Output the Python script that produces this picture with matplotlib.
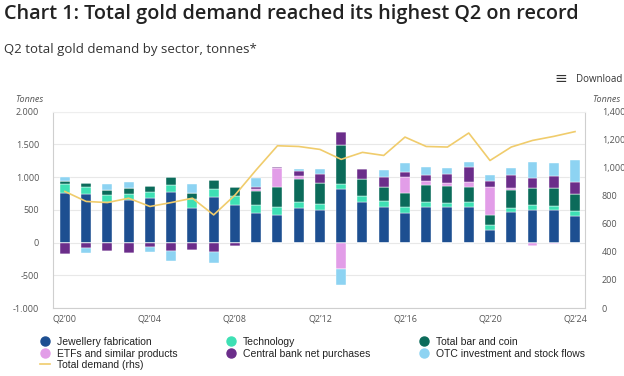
import numpy as np
import matplotlib.pyplot as plt
from matplotlib.lines import Line2D

# Q2 gold demand by sector, tonnes
years = list(range(2000, 2025))
jewellery = [763, 745, 620, 650, 675, 780, 535, 700, 570, 450, 420, 530, 500,
             814, 625, 550, 450, 550, 540, 550, 195, 460, 500, 500, 405]
technology = [133, 110, 100, 92, 100, 100, 130, 125, 135, 125, 120, 85, 90,
              82, 88, 90, 92, 76, 60, 76, 75, 66, 76, 60, 82]
bar_coin = [45, 50, 85, 88, 97, 128, 95, 135, 150, 220, 305, 355, 316,
            595, 255, 215, 223, 255, 265, 229, 150, 280, 255, 270, 260]
etfs = [0, 0, 0, 0, 0, 0, 0, 0, 0, 30, 295, 50, 0,
        -410, 0, 0, 235, 66, 40, 76, 430, 25, -50, -20, 0]
central_bank = [-170, -90, -135, -165, -70, -135, -115, -140, -60, 30, 10, 75, 142,
                200, 153, 143, 86, 86, 150, 229, 92, 203, 152, 188, 180]
otc = [67, -70, 90, 100, -75, -140, 135, -165, 0, 125, 0, 35, 72,
       -235, 0, 112, 127, 117, 77, 77, 87, 100, 245, 204, 330]
total_demand = [831, 760, 752, 783, 724, 752, 783, 664, 805, 985, 1157, 1152, 1131,
                1060, 1110, 1088, 1219, 1152, 1148, 1248, 1052, 1148, 1195, 1224, 1258]

series = [
    ('Jewellery fabrication', jewellery, '#1d4f91'),
    ('Technology', technology, '#3ee0b4'),
    ('Total bar and coin', bar_coin, '#0b6b5a'),
    ('ETFs and similar products', etfs, '#e29de8'),
    ('Central bank net purchases', central_bank, '#6b2d8a'),
    ('OTC investment and stock flows', otc, '#8dd3f2'),
]
line_color = '#f0cc6c'

left_ticks = [-1000, -500, 0, 500, 1000, 1500, 2000]
left_labels = ['-1.000', '-500', '0', '500', '1.000', '1.500', '2.000']
right_ticks = [0, 200, 400, 600, 800, 1000, 1200, 1400]
right_labels = ['0', '200', '400', '600', '800', '1,000', '1,200', '1,400']
xtick_pos = [0, 4, 8, 12, 16, 20, 24]
xtick_labels = ["Q2\u201900", "Q2\u201904", "Q2\u201908", "Q2\u201912",
                "Q2\u201916", "Q2\u201920", "Q2\u201924"]

plt.rcParams['font.family'] = ['Open Sans', 'DejaVu Sans']

fig = plt.figure(figsize=(6.24, 3.76), dpi=100)
ax = fig.add_axes([53 / 624, 1 - 308 / 376, 532 / 624, 196.3 / 376])

x = np.arange(len(years))
pos_base = np.zeros(len(years))
neg_base = np.zeros(len(years))
for name, vals, color in series:
    v = np.array(vals, dtype=float)
    pos = np.where(v > 0, v, 0)
    neg = np.where(v < 0, v, 0)
    ax.bar(x, pos, 0.47, bottom=pos_base, color=color, edgecolor='white',
           linewidth=0.3, zorder=2)
    ax.bar(x, neg, 0.47, bottom=neg_base, color=color, edgecolor='white',
           linewidth=0.3, zorder=2)
    pos_base += pos
    neg_base += neg

ax.set_xlim(-0.56, 24.47)
ax.set_ylim(-1000, 2000)
ax.set_yticks(left_ticks)
ax.set_yticklabels(left_labels)
ax.set_xticks(xtick_pos)
ax.set_xticklabels(xtick_labels)
ax.grid(axis='y', color='#e8e8e8', linewidth=0.8, zorder=0)
ax.tick_params(axis='y', length=0, pad=10, labelsize=6.5, labelcolor='#555555')
ax.tick_params(axis='x', length=0, pad=5, labelsize=6.5, labelcolor='#555555')
for s in ax.spines.values():
    s.set_color('#cfcfcf')
    s.set_linewidth(0.8)
ax.spines['top'].set_color('#eeeeee')

ax2 = ax.twinx()
ax2.plot(x, total_demand, color=line_color, linewidth=1.2, zorder=3)
ax2.set_ylim(0, 1400)
ax2.set_yticks(right_ticks)
ax2.set_yticklabels(right_labels)
ax2.tick_params(axis='y', length=0, pad=12, labelsize=6.5, labelcolor='#555555')
for s in ax2.spines.values():
    s.set_visible(False)

# titles and axis units
fig.text(4 / 624, 1 - 14 / 376, 'Chart 1: Total gold demand reached its highest Q2 on record',
         fontsize=14.3, fontweight='semibold', color='#222222', va='center')
fig.text(4 / 624, 1 - 49 / 376, 'Q2 total gold demand by sector, tonnes*',
         fontsize=9.5, color='#333333', va='center')
fig.text(554 / 624, 1 - 79 / 376, '\u2261', fontsize=11, color='#333333',
         va='center', family=['DejaVu Sans'])
fig.text(576 / 624, 1 - 79 / 376, 'Download', fontsize=7, color='#333333', va='center')
fig.text(15 / 624, 1 - 99 / 376, 'Tonnes', fontsize=6.5, style='italic',
         color='#555555', va='center')
fig.text(592 / 624, 1 - 99 / 376, 'Tonnes', fontsize=6.5, style='italic',
         color='#555555', va='center')

# legend, column-major to match the reference layout
def dot(c):
    return Line2D([], [], marker='o', linestyle='none', markersize=6.5,
                  markerfacecolor=c, markeredgecolor=c)

names = {n: c for n, _, c in series}
order = ['Jewellery fabrication', 'ETFs and similar products', None,
         'Technology', 'Central bank net purchases',
         'Total bar and coin', 'OTC investment and stock flows']
handles, labels = [], []
for n in order:
    if n is None:
        handles.append(Line2D([], [], color=line_color, linewidth=1.2))
        labels.append('Total demand (rhs)')
    else:
        handles.append(dot(names[n]))
        labels.append(n)

fig.legend(handles, labels, loc='upper left', bbox_to_anchor=(40 / 624, 1 - 337 / 376),
           ncol=3, frameon=False, handlelength=1.0, handletextpad=0.6,
           labelspacing=0.15, columnspacing=4.7, borderpad=0, borderaxespad=0,
           prop={'family': 'Liberation Sans', 'size': 7.5}, labelcolor='#222222')

fig.savefig('out.png', dpi=100)
